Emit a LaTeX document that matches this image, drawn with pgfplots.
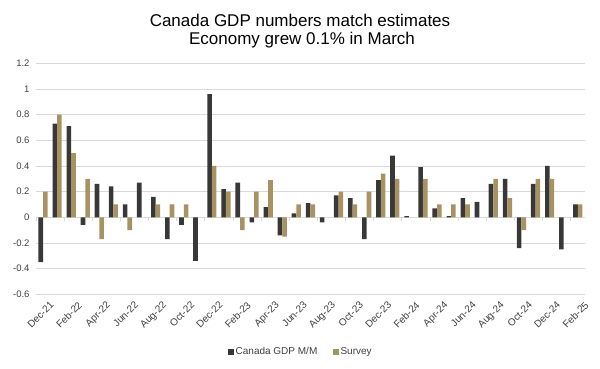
\documentclass[border=0pt]{standalone}
\usepackage{fontspec}
\setmainfont{Liberation Sans}
\usepackage{pgfplots}
\pgfplotsset{compat=1.18}
\definecolor{gdp}{RGB}{56,56,56}
\definecolor{surv}{RGB}{166,147,97}
\definecolor{gridc}{RGB}{217,217,217}
\definecolor{txt}{RGB}{64,64,64}
\begin{document}
\begin{tikzpicture}[x=1pt,y=1pt]
\path[use as bounding box] (0,0) rectangle (600,369);
\node[anchor=base,font=\fontsize{17}{20}\selectfont] at (300,342.3) {Canada GDP numbers match estimates};
\node[anchor=base,font=\fontsize{17}{20}\selectfont] at (302,324) {Economy grew 0.1\% in March};
\begin{axis}[
  at={(36pt,74.7pt)}, anchor=south west,
  scale only axis, width=548.8pt, height=231pt,
  xmin=-0.5, xmax=38.5, ymin=-0.6, ymax=1.2,
  axis line style={draw=none},
  major tick length=0pt,
  ytick={-0.6,-0.4,-0.2,0,0.2,0.4,0.6,0.8,1,1.2},
  yticklabels={-0.6,-0.4,-0.2,0,0.2,0.4,0.6,0.8,1,1.2},
  ymajorgrids, grid style={gridc, line width=0.8pt},
  y tick label style={font=\fontsize{9.5}{11}\selectfont, text=txt, xshift=-3pt},
  xtick={0,2,...,38},
  xticklabels={Dec-21,Feb-22,Apr-22,Jun-22,Aug-22,Oct-22,Dec-22,Feb-23,Apr-23,Jun-23,Aug-23,Oct-23,Dec-23,Feb-24,Apr-24,Jun-24,Aug-24,Oct-24,Dec-24,Feb-25},
  x tick label style={font=\fontsize{10}{11}\selectfont, text=txt, rotate=45, anchor=north east, inner sep=1pt, xshift=1pt, yshift=-8pt},
  ybar=0pt, bar width=4.6pt,
  legend columns=2,
  legend style={draw=none, fill=none, at={(0.483,-0.25)}, anchor=center, font=\fontsize{10}{12}\selectfont, text=txt,
    /tikz/every even column/.append style={column sep=14pt}},
  legend image code/.code={\fill[#1] (0pt,-2.6pt) rectangle (5.2pt,2.6pt);},
]
\addplot[fill=gdp, draw=none] coordinates {
(0,-0.35) (1,0.73) (2,0.71) (3,-0.06) (4,0.26) (5,0.24) (6,0.10) (7,0.27) (8,0.16) (9,-0.17)
(10,-0.06) (11,-0.34) (12,0.96) (13,0.22) (14,0.27) (15,-0.04) (16,0.08) (17,-0.14) (18,0.03) (19,0.11)
(20,-0.04) (21,0.17) (22,0.15) (23,-0.17) (24,0.29) (25,0.48) (26,0.01) (27,0.39) (28,0.07) (29,0.01)
(30,0.15) (31,0.12) (32,0.26) (33,0.30) (34,-0.24) (35,0.26) (36,0.40) (37,-0.25) (38,0.10)};
\addlegendentry{Canada GDP M/M}
\addplot[fill=surv, draw=none] coordinates {
(0,0.2) (1,0.8) (2,0.5) (3,0.3) (4,-0.17) (5,0.1) (6,-0.1) (8,0.1) (9,0.1)
(10,0.1) (12,0.4) (13,0.2) (14,-0.1) (15,0.2) (16,0.29) (17,-0.15) (18,0.1) (19,0.1)
(21,0.2) (22,0.1) (23,0.2) (24,0.34) (25,0.3) (27,0.3) (28,0.1) (29,0.1)
(30,0.1) (32,0.3) (33,0.15) (34,-0.1) (35,0.3) (36,0.3) (38,0.1)};
\addlegendentry{Survey}
\pgfplotsinvokeforeach{0,...,19}{\draw[gridc, line width=0.8pt] (axis cs:{-0.5+2*#1},0) -- (axis cs:{-0.5+2*#1},-0.031);}
\end{axis}
\end{tikzpicture}
\end{document}
